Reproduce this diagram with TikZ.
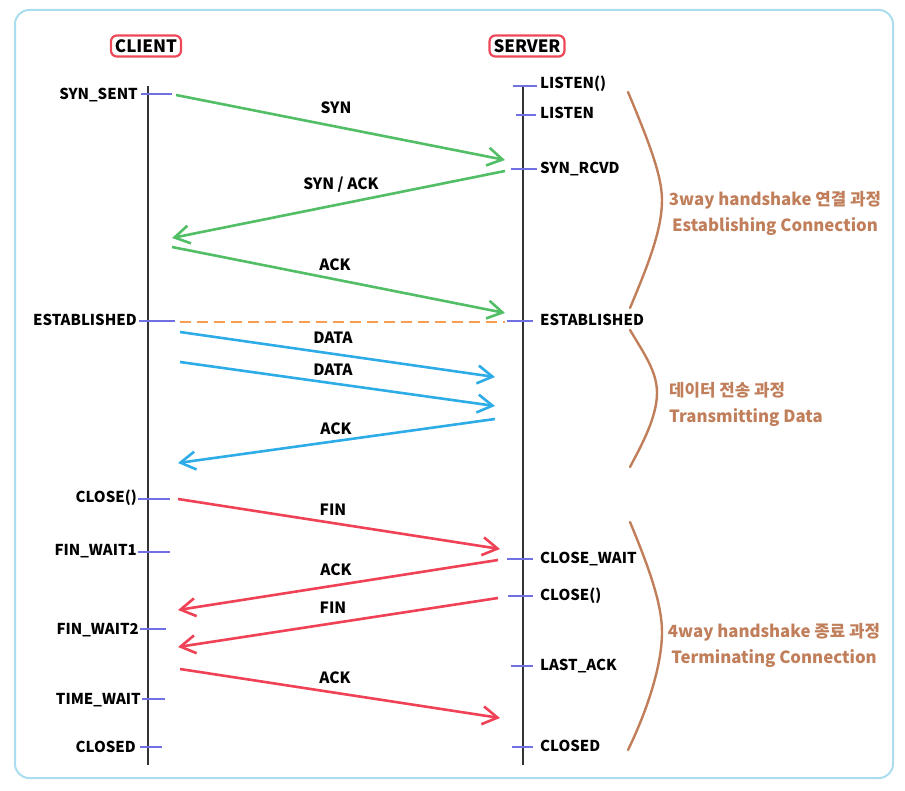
\documentclass[tikz,border=0pt]{standalone}
\usepackage{fontspec}
\setmainfont{Noto Sans CJK KR}
\usetikzlibrary{arrows.meta,positioning}
\definecolor{FrameColor}{RGB}{170,222,238}
\definecolor{HostColor} {RGB}{238,72,88}
\definecolor{SynColor}  {RGB}{82,190,102}
\definecolor{DataColor} {RGB}{45,172,232}
\definecolor{FinColor}  {RGB}{240,66,86}
\definecolor{EstColor}  {RGB}{248,158,82}
\definecolor{TickColor} {RGB}{112,112,226}
\definecolor{PhaseColor}{RGB}{192,126,90}

\begin{document}
\begin{tikzpicture}[x=1pt,y=-1pt,
  lifeline/.style={line width=2.8pt,black!80},
  tick/.style={line width=2pt,TickColor},
  host/.style={draw=HostColor,line width=2.2pt,rounded corners=6pt,
    inner xsep=4pt,inner ysep=4pt,font=\fontsize{17}{19}\selectfont\bfseries},
  cstate/.style={anchor=east,inner sep=0pt,font=\fontsize{15}{17}\selectfont\bfseries},
  sstate/.style={anchor=west,inner sep=0pt,font=\fontsize{15}{17}\selectfont\bfseries},
  msg/.style={line width=2.6pt,-{Straight Barb[length=15pt,width=18pt,line width=2.6pt]}},
  msglabel/.style={inner sep=0pt,font=\fontsize{15.5}{17}\selectfont\bfseries},
  phase/.style={PhaseColor,line width=2.4pt,line cap=round},
  phasetext/.style={PhaseColor,inner sep=0pt,align=center,
    font=\fontsize{16.8}{26}\selectfont\bfseries}]
\useasboundingbox (0,0) rectangle (905,791);
\draw[FrameColor,line width=2pt,rounded corners=14pt] (15,10) rectangle (893,778);

% hosts and their lifelines
\node[host] (client) at (146,46) {CLIENT};
\node[host] (server) at (527,46) {SERVER};
\coordinate (ctop) at (148,86);
\coordinate (cbot) at (148,765);
\coordinate (stop) at (523,86);
\coordinate (sbot) at (523,765);
\draw[lifeline] (ctop) -- (cbot);
\draw[lifeline] (stop) -- (sbot);

% client states
\node[cstate] (c-synsent) at (138,95) {SYN\_SENT};
\node[cstate] (c-est) at (137,320) {ESTABLISHED};
\node[cstate] (c-close) at (137,498) {CLOSE()};
\node[cstate] (c-fw1) at (137,551) {FIN\_WAIT1};
\node[cstate] (c-fw2) at (139,630) {FIN\_WAIT2};
\node[cstate] (c-tw) at (141,700) {TIME\_WAIT};
\node[cstate] (c-closed) at (136,747) {CLOSED};
\draw[tick] (141,94) -- (172,94);
\draw[tick] (139,321) -- (175,321);
\draw[tick] (138,499) -- (170,499);
\draw[tick] (138,552) -- (170,552);
\draw[tick] (140,629) -- (166,629);
\draw[tick] (142,699) -- (165,699);
\draw[tick] (140,747) -- (162,747);

% server states
\node[sstate] (s-listen0) at (540,84) {LISTEN()};
\node[sstate] (s-listen) at (540,113) {LISTEN};
\node[sstate] (s-rcvd) at (540,169) {SYN\_RCVD};
\node[sstate] (s-est) at (540,320) {ESTABLISHED};
\node[sstate] (s-cw) at (540,559) {CLOSE\_WAIT};
\node[sstate] (s-close) at (540,596) {CLOSE()};
\node[sstate] (s-lack) at (540,666) {LAST\_ACK};
\node[sstate] (s-closed) at (540,746) {CLOSED};
\draw[tick] (513,86) -- (537,86);
\draw[tick] (516,115) -- (536,115);
\draw[tick] (511,169) -- (537,169);
\draw[tick] (507,321) -- (533,321);
\draw[tick] (507,559) -- (533,559);
\draw[tick] (508,596) -- (533,596);
\draw[tick] (511,666) -- (533,666);
\draw[tick] (512,747) -- (533,747);

% 3way handshake
\coordinate (syn-a) at (176,95);   \coordinate (syn-b) at (505,160);
\coordinate (sack-a) at (505,171); \coordinate (sack-b) at (172,238);
\coordinate (ack-a) at (172,247);  \coordinate (ack-b) at (505,313);
\draw[msg,SynColor] (syn-a) -- (syn-b);
\draw[msg,SynColor] (sack-a) -- (sack-b);
\draw[msg,SynColor] (ack-a) -- (ack-b);
\node[msglabel] (l-syn) at (336,108) {SYN};
\node[msglabel] (l-sack) at (341,185) {SYN / ACK};
\node[msglabel] (l-ack) at (335,265) {ACK};
\coordinate (est-a) at (180,322); \coordinate (est-b) at (505,322);
\draw[EstColor,line width=2.4pt,dash pattern=on 11pt off 6pt] (est-a) -- (est-b);

% data transfer
\coordinate (d1-a) at (180,332); \coordinate (d1-b) at (495,377);
\coordinate (d2-a) at (180,362); \coordinate (d2-b) at (495,406);
\coordinate (da-a) at (495,419); \coordinate (da-b) at (178,463);
\draw[msg,DataColor] (d1-a) -- (d1-b);
\draw[msg,DataColor] (d2-a) -- (d2-b);
\draw[msg,DataColor] (da-a) -- (da-b);
\node[msglabel] (l-d1) at (333,338) {DATA};
\node[msglabel] (l-d2) at (333,370) {DATA};
\node[msglabel] (l-da) at (336,429) {ACK};

% 4way handshake
\coordinate (f1-a) at (178,499); \coordinate (f1-b) at (500,549);
\coordinate (a1-a) at (498,560); \coordinate (a1-b) at (178,610);
\coordinate (f2-a) at (498,598); \coordinate (f2-b) at (178,647);
\coordinate (a2-a) at (180,669); \coordinate (a2-b) at (500,718);
\draw[msg,FinColor] (f1-a) -- (f1-b);
\draw[msg,FinColor] (a1-a) -- (a1-b);
\draw[msg,FinColor] (f2-a) -- (f2-b);
\draw[msg,FinColor] (a2-a) -- (a2-b);
\node[msglabel] (l-f1) at (333,510) {FIN};
\node[msglabel] (l-a1) at (336,570) {ACK};
\node[msglabel] (l-f2) at (333,608) {FIN};
\node[msglabel] (l-a2) at (335,678) {ACK};

% phases
\draw[phase] (628,92) .. controls (648,140) and (662,175) .. (662,200)
  .. controls (662,230) and (648,265) .. (630,308);
\draw[phase] (630,330) .. controls (645,355) and (657,372) .. (657,393)
  .. controls (657,418) and (640,448) .. (630,467);
\draw[phase] (630,522) .. controls (650,570) and (662,605) .. (662,632)
  .. controls (662,668) and (645,715) .. (628,750);
\node[phasetext] (p-open) at (775,213) {3way handshake 연결 과정\\Establishing Connection};
\node[phasetext,anchor=west,align=left] (p-data) at (669,404) {데이터 전송 과정\\Transmitting Data};
\node[phasetext] (p-close) at (774,645) {4way handshake 종료 과정\\Terminating Connection};
\end{tikzpicture}
\end{document}
